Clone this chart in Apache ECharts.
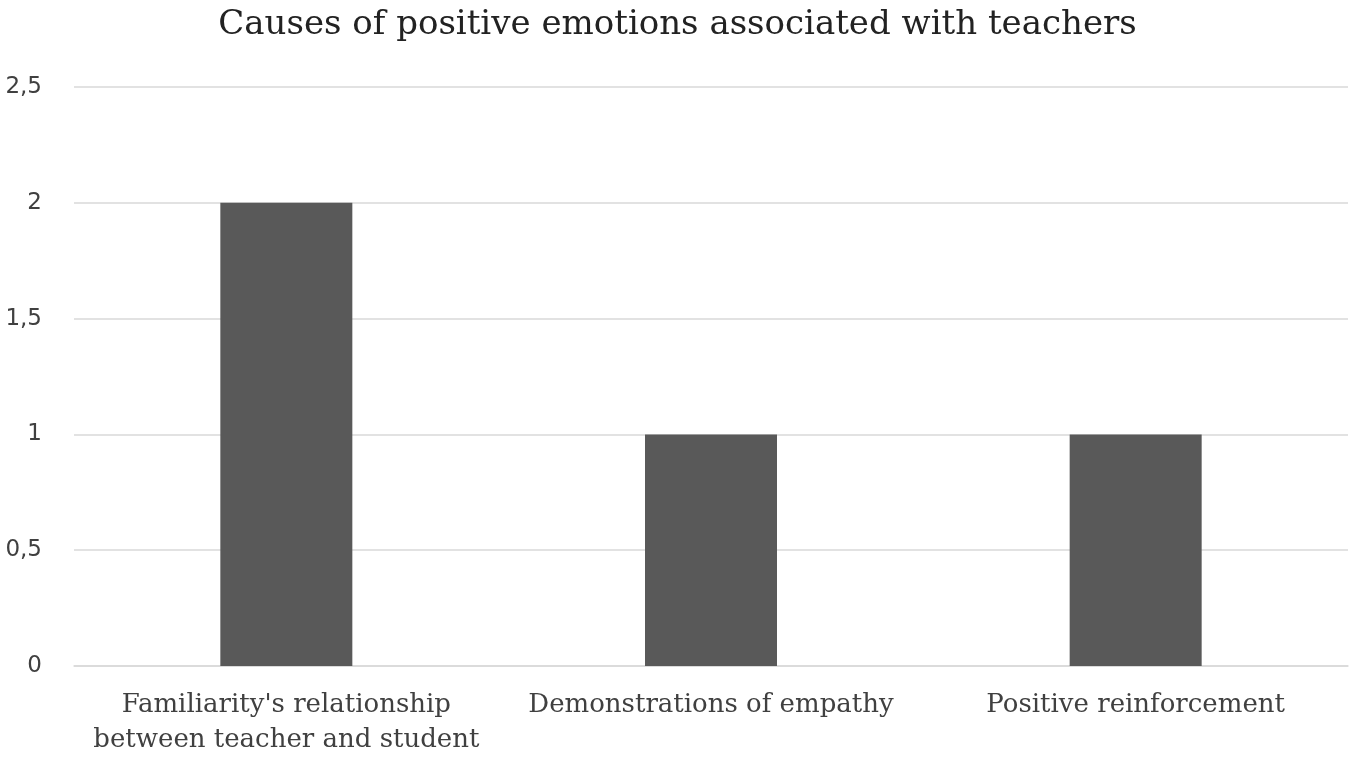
<!DOCTYPE html>
<html>
<head>
<meta charset="utf-8">
<script src="https://cdn.jsdelivr.net/npm/echarts@6/dist/echarts.min.js"></script>
<style>
  html, body { margin: 0; padding: 0; background: #fff; }
  #chart { width: 1355px; height: 763px; }
</style>
</head>
<body>
<div id="chart"></div>
<script>
// data
const categories = [
  "Familiarity's relationship\nbetween teacher and student",
  'Demonstrations of empathy',
  'Positive reinforcement'
];
const values = [2, 1, 1];
const yTicks = [0, 0.5, 1, 1.5, 2, 2.5];

const chart = echarts.init(document.getElementById('chart'));

const option = {
  animation: false,
  title: {
    text: 'Causes of positive emotions associated with teachers',
    left: 'center',
    top: 3,
    textStyle: {
      fontFamily: 'DejaVu Serif',
      fontWeight: 'normal',
      fontSize: 34,
      color: '#222'
    }
  },
  grid: {
    left: 74,
    right: 7,
    top: 87,
    bottom: 97
  },
  xAxis: {
    type: 'category',
    data: categories,
    axisLine: { show: true, lineStyle: { color: '#d9d9d9', width: 1.5 } },
    axisTick: { show: false },
    axisLabel: {
      interval: 0,
      fontFamily: 'DejaVu Serif',
      fontSize: 26,
      color: '#404040',
      margin: 22,
      lineHeight: 35
    }
  },
  yAxis: {
    type: 'value',
    min: yTicks[0],
    max: yTicks[yTicks.length - 1],
    interval: 0.5,
    axisLine: { show: false },
    axisTick: { show: false },
    splitLine: { lineStyle: { color: '#d9d9d9', width: 1.5 } },
    axisLabel: {
      fontFamily: 'DejaVu Sans',
      fontSize: 23,
      color: '#404040',
      margin: 32,
      formatter: v => String(v).replace('.', ',')
    }
  },
  series: [{
    type: 'bar',
    data: values,
    barWidth: 132,
    itemStyle: { color: '#595959' }
  }]
};

chart.setOption(option);
</script>
</body>
</html>
